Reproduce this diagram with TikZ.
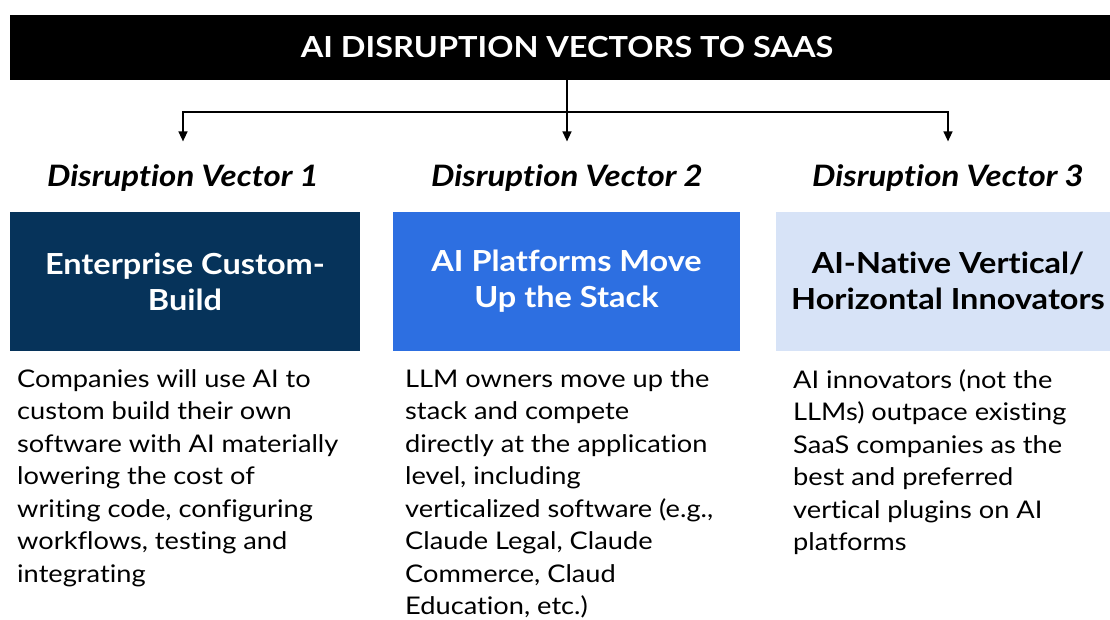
\documentclass[tikz,border=0pt]{standalone}
\usepackage{fontspec}
\setmainfont{Lato}[FakeStretch=1.12, Ligatures=NoCommon]
\usetikzlibrary{arrows.meta,positioning}

\definecolor{navyblue}{HTML}{06335A}
\definecolor{brightblue}{HTML}{2D6FE1}
\definecolor{paleblue}{HTML}{D7E3F7}

\tikzset{
  titlebar/.style={fill=black, text=white, minimum width=1114pt, minimum height=65pt,
    inner sep=0pt, font=\bfseries\fontsize{29}{32}\selectfont},
  vechead/.style={inner sep=3pt, font=\bfseries\itshape\fontsize{29.5}{32}\selectfont},
  vecbox/.style={minimum height=139pt, inner sep=0pt, align=center,
    font=\bfseries\fontsize{29}{36}\selectfont},
  vecdesc/.style={anchor=north west, inner sep=0pt, align=left,
    font=\fontsize{24.3}{32.5}\selectfont},
  link/.style={line width=1.4pt},
  linkarrow/.style={link, -{Triangle[length=10pt,width=9pt]}, shorten >=20pt}
}

\begin{document}
\begin{tikzpicture}[x=1pt,y=-1pt]
  %%%%% START %%%%%
  \useasboundingbox (0,0) rectangle (1110,619);

  \node[titlebar] (title) at (567,47.5) {AI DISRUPTION VECTORS TO SAAS};

  \node[vechead] (vec1) at (183,178) {Disruption Vector 1};
  \node[vechead] (vec2) at (567,178) {Disruption Vector 2};
  \node[vechead] (vec3) at (948,178) {Disruption Vector 3};

  \node[vecbox, fill=navyblue, text=white, minimum width=350pt] (box1) at (185,281.5) {Enterprise Custom-\\Build};
  \node[vecbox, fill=brightblue, text=white, minimum width=347pt] (box2) at (566.5,281) {AI Platforms Move\\Up the Stack};
  \node[vecbox, fill=paleblue, text=black, minimum width=344pt] (box3) at (948,281) {AI-Native Vertical/\\Horizontal Innovators};

  \node[vecdesc] (desc1) at (17,369) {Companies will use AI to\\custom build their own\\software with AI materially\\lowering the cost of\\writing code, configuring\\workflows, testing and\\integrating};
  \node[vecdesc] (desc2) at (405,369) {LLM owners move up the\\stack and compete\\directly at the application\\level, including\\verticalized software (e.g.,\\Claude Legal, Claude\\Commerce, Claud\\Education, etc.)};
  \node[vecdesc] (desc3) at (793,369) {AI innovators (not the\\LLMs) outpace existing\\SaaS companies as the\\best and preferred\\vertical plugins on AI\\platforms};

  % connectors
  \coordinate (split) at (567,112);
  \draw[link] (title.south) -- (split);
  \draw[linkarrow] (split) -| (vec1.north);
  \draw[linkarrow] (split) -- (vec2.north);
  \draw[linkarrow] (split) -| (vec3.north);

  %%%%% END %%%%%
\end{tikzpicture}
\end{document}
